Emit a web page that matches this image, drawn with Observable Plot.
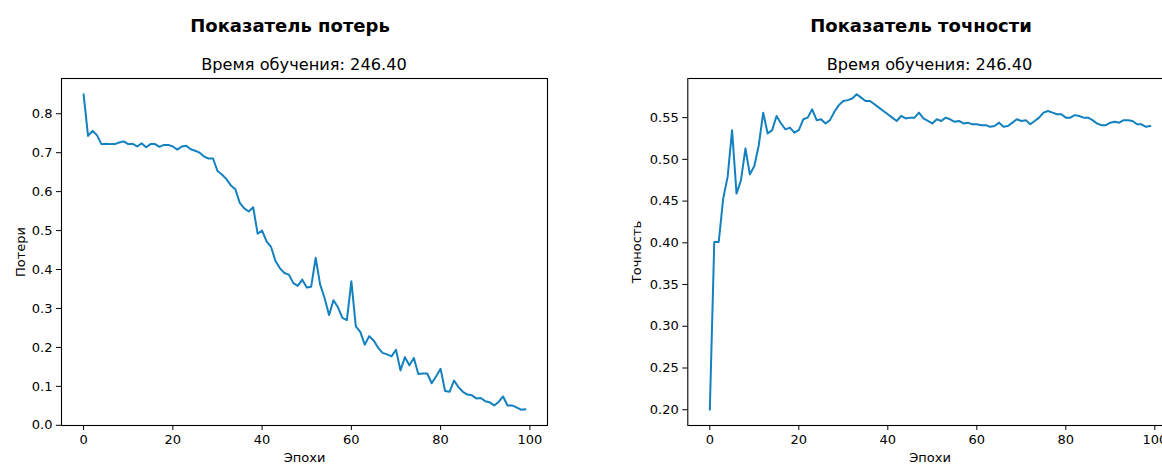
<!DOCTYPE html>
<html><head><meta charset="utf-8">
<script src="https://cdn.jsdelivr.net/npm/d3@7"></script>
<script src="https://cdn.jsdelivr.net/npm/@observablehq/plot@0.6"></script>
<style>
body{margin:0;background:#fff;font-family:"DejaVu Sans",sans-serif;}
#wrap{position:relative;width:1162px;height:464px;overflow:hidden;background:#fff;}
.t{position:absolute;white-space:nowrap;transform:translateX(-50%);color:#000;line-height:1;}
.title{font-weight:bold;font-size:18px;}
.sub{font-size:16.2px;}
.chart{position:absolute;top:0;}
</style></head><body><div id="wrap"></div>
<script>
// ---- data ----
const lossTitle = "Показатель потерь";
const accTitle = "Показатель точности";
const subtitle = "Время обучения: 246.40";
const xLabel = "Эпохи";
const lossLabel = "Потери";
const accLabel = "Точность";
const xTicks = [0, 20, 40, 60, 80, 100];
const lossTicks = [0.0, 0.1, 0.2, 0.3, 0.4, 0.5, 0.6, 0.7, 0.8];
const accTicks = [0.20, 0.25, 0.30, 0.35, 0.40, 0.45, 0.50, 0.55];

const lossValues = [
  0.850, 0.743, 0.756, 0.745, 0.722, 0.723, 0.722, 0.722, 0.726, 0.729,
  0.722, 0.723, 0.716, 0.724, 0.714, 0.722, 0.722, 0.715, 0.720, 0.720,
  0.716, 0.708, 0.716, 0.718, 0.709, 0.705, 0.700, 0.690, 0.685, 0.685,
  0.653, 0.644, 0.632, 0.616, 0.606, 0.571, 0.557, 0.549, 0.560, 0.492,
  0.500, 0.472, 0.458, 0.422, 0.403, 0.391, 0.387, 0.365, 0.358, 0.374,
  0.354, 0.356, 0.430, 0.362, 0.327, 0.283, 0.321, 0.303, 0.276, 0.270,
  0.370, 0.254, 0.240, 0.207, 0.229, 0.218, 0.199, 0.186, 0.182, 0.177,
  0.194, 0.141, 0.175, 0.154, 0.173, 0.132, 0.133, 0.133, 0.108, 0.126,
  0.145, 0.088, 0.086, 0.115, 0.098, 0.086, 0.079, 0.077, 0.069, 0.070,
  0.062, 0.059, 0.051, 0.060, 0.074, 0.051, 0.051, 0.046, 0.040, 0.041
];

const accValues = [
  0.200, 0.401, 0.401, 0.453, 0.479, 0.535, 0.459, 0.475, 0.513, 0.482,
  0.492, 0.517, 0.556, 0.531, 0.535, 0.552, 0.543, 0.536, 0.538, 0.532,
  0.535, 0.548, 0.550, 0.560, 0.547, 0.548, 0.543, 0.547, 0.557, 0.565,
  0.570, 0.571, 0.573, 0.578, 0.574, 0.570, 0.570, 0.566, 0.562, 0.558,
  0.554, 0.550, 0.546, 0.552, 0.549, 0.550, 0.550, 0.556, 0.549, 0.546,
  0.543, 0.548, 0.546, 0.550, 0.548, 0.545, 0.546, 0.543, 0.544, 0.542,
  0.542, 0.541, 0.541, 0.539, 0.540, 0.544, 0.539, 0.540, 0.544, 0.548,
  0.546, 0.547, 0.542, 0.546, 0.550, 0.556, 0.558, 0.556, 0.554, 0.554,
  0.550, 0.550, 0.553, 0.552, 0.550, 0.550, 0.547, 0.543, 0.541, 0.541,
  0.544, 0.545, 0.544, 0.547, 0.547, 0.546, 0.542, 0.542, 0.539, 0.540
];

// ---- helpers ----
const lineColor = "#1380c0";
function toRows(vals) { return vals.map((v, i) => ({epoch: i, value: v})); }
function padded(ext) { const m = (ext[1] - ext[0]) * 0.05; return [ext[0] - m, ext[1] + m]; }

function chart(vals, yTicks, yFmt, yLab, opts) {
  const rows = toRows(vals);
  return Plot.plot({
    width: opts.width, height: 464,
    marginLeft: opts.ml, marginRight: opts.mr, marginTop: 78, marginBottom: 39,
    style: {fontFamily: "DejaVu Sans, sans-serif", fontSize: "13px", color: "#000", background: "transparent", overflow: "visible"},
    x: {domain: padded(d3.extent(rows, d => d.epoch)), ticks: xTicks, tickFormat: d3.format("d"),
        tickSize: 5, tickPadding: 4, label: xLabel, labelAnchor: "center", labelArrow: "none", labelOffset: 36},
    y: {domain: padded(d3.extent(rows, d => d.value)), ticks: yTicks, tickFormat: d3.format(yFmt),
        tickSize: 5, tickPadding: 4, label: yLab, labelAnchor: "center", labelArrow: "none", labelOffset: opts.lo},
    marks: [
      Plot.line(rows, {x: "epoch", y: "value", stroke: lineColor, strokeWidth: 2}),
      Plot.frame({stroke: "#000", strokeWidth: 1.1})
    ]
  });
}

const wrap = document.getElementById("wrap");
function addText(cls, txt, cx, top) {
  const d = document.createElement("div");
  d.className = "t " + cls; d.textContent = txt;
  d.style.left = cx + "px"; d.style.top = top + "px";
  wrap.appendChild(d);
}

const c1 = chart(lossValues, lossTicks, ".1f", lossLabel, {width: 580, ml: 61, mr: 33, lo: 46});
c1.classList.add("chart"); c1.style.left = "0px";
wrap.appendChild(c1);

const c2 = chart(accValues, accTicks, ".2f", accLabel, {width: 600, ml: 87.3, mr: 28.1, lo: 56});
c2.classList.add("chart"); c2.style.left = "600px";
wrap.appendChild(c2);

addText("title", lossTitle, 290, 17);
addText("sub", subtitle, 304, 57);
addText("title", accTitle, 921, 17);
addText("sub", subtitle, 929.5, 57);
</script></body></html>
